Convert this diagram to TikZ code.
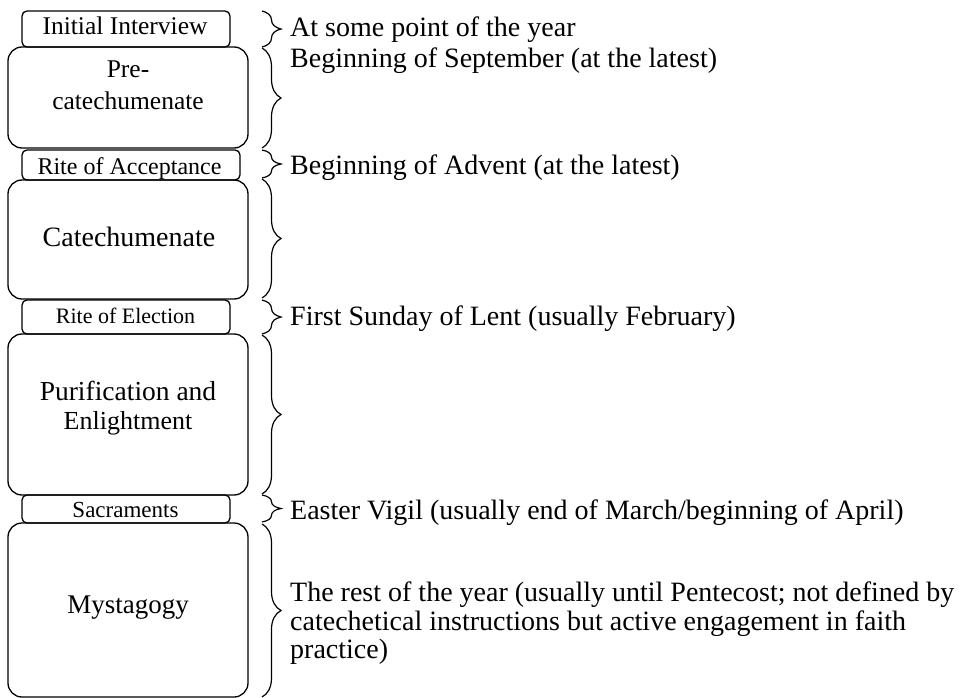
\documentclass[tikz,border=0pt]{standalone}
\usepackage{fontspec}
\setmainfont{Liberation Serif}
\usetikzlibrary{decorations.pathreplacing}
\newcommand{\fs}[1]{\fontsize{#1}{#1}\selectfont}
\begin{document}
\begin{tikzpicture}[x=1pt,y=-1pt,
  stage/.style={draw, line width=1.3pt, rounded corners=14pt, minimum width=240pt, inner sep=0pt},
  rite/.style={draw, line width=1.3pt, rounded corners=5pt, minimum width=208pt, inner sep=0pt},
  lbl/.style={anchor=base, inner sep=0pt},
  br/.style={decorate, decoration={brace, amplitude=19pt, aspect=0.5}, line width=1.2pt},
  note/.style={anchor=base west, inner sep=0pt, font=\fs{28}}]
\useasboundingbox (0,0) rectangle (962,698);

% boxes
\node[rite, minimum height=36pt] (ii) at (126,29) {};
\node[stage, minimum height=101pt] (pre) at (128,97.5) {};
\node[rite, minimum width=218pt, minimum height=30pt] (ra) at (131,165) {};
\node[stage, minimum height=119pt] (cat) at (128,239.5) {};
\node[rite, minimum height=34pt] (re) at (126,317) {};
\node[stage, minimum height=161pt] (pur) at (128,414.5) {};
\node[rite, minimum height=28pt] (sac) at (126,509) {};
\node[stage, minimum height=174pt] (mys) at (128,610) {};

% box labels
\node[lbl, font=\fs{25.5}] (iiL) at (125,35) {Initial Interview};
\node[lbl, font=\fs{25.5}] (preL1) at (128,78) {Pre-};
\node[lbl, font=\fs{25.5}] (preL2) at (128,110) {catechumenate};
\node[lbl, font=\fs{24}] (raL) at (129.5,175) {Rite of Acceptance};
\node[lbl, font=\fs{28}] (catL) at (129,246) {Catechumenate};
\node[lbl, font=\fs{22}] (reL) at (125.5,323) {Rite of Election};
\node[lbl, font=\fs{27.5}] (purL1) at (128,400) {Purification and};
\node[lbl, font=\fs{26}] (purL2) at (128,429) {Enlightment};
\node[lbl, font=\fs{23}] (sacL) at (125.5,517) {Sacraments};
\node[lbl, font=\fs{27}] (mysL) at (128,613) {Mystagogy};

% brace anchors
\coordinate (b1t) at (262,11);  \coordinate (b1b) at (262,47);
\coordinate (b2t) at (262,48);  \coordinate (b2b) at (262,148);
\coordinate (b3t) at (262,150); \coordinate (b3b) at (262,178);
\coordinate (b4t) at (262,179); \coordinate (b4b) at (262,298);
\coordinate (b5t) at (262,300); \coordinate (b5b) at (262,334);
\coordinate (b6t) at (262,335); \coordinate (b6b) at (262,494);
\coordinate (b7t) at (262,495); \coordinate (b7b) at (262,522);
\coordinate (b8t) at (262,524); \coordinate (b8b) at (262,697);

\foreach \i in {1,...,8} {\draw[br] (b\i t) -- (b\i b);}

% notes
\node[note] (n1) at (290,36.5) {At some point of the year};
\node[note] (n2) at (290,68) {Beginning of September (at the latest)};
\node[note] (n3) at (290,175) {Beginning of Advent (at the latest)};
\node[note] (n4) at (290,325) {First Sunday of Lent (usually February)};
\node[note] (n5) at (290,519) {Easter Vigil (usually end of March/beginning of April)};
\node[note] (n6a) at (290,601) {The rest of the year (usually until Pentecost; not defined by};
\node[note] (n6b) at (290,630) {catechetical instructions but active engagement in faith};
\node[note] (n6c) at (290,658) {practice)};
\end{tikzpicture}
\end{document}
